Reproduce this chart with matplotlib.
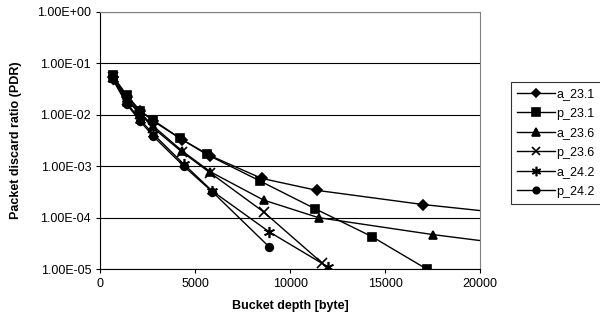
import matplotlib
matplotlib.use("Agg")
import matplotlib.pyplot as plt

plt.rcParams['font.family'] = ['Liberation Sans', 'DejaVu Sans']

# bucket depth [byte] and packet discard ratio per series
x_a231 = [650, 1400, 2100, 2800, 4300, 5800, 8500, 11400, 17000, 23000]
y_a231 = [0.055, 0.022, 0.012, 0.0075, 0.0033, 0.0016, 0.00058, 0.00034, 0.00018, 0.000105]

x_p231 = [650, 1400, 2100, 2800, 4200, 5600, 8400, 11300, 14300, 17200]
y_p231 = [0.058, 0.024, 0.012, 0.0078, 0.0035, 0.0017, 0.00052, 0.00015, 4.3e-5, 1.0e-5]

x_a236 = [650, 1400, 2100, 2800, 4300, 5800, 8600, 11500, 17500, 23000]
y_a236 = [0.055, 0.020, 0.011, 0.0060, 0.0020, 0.00078, 0.00022, 0.0001, 4.7e-5, 2.6e-5]

x_p236 = [650, 1400, 2100, 2800, 4300, 5800, 8600, 11700]
y_p236 = [0.055, 0.019, 0.0105, 0.0055, 0.0019, 0.00074, 0.00013, 1.3e-5]

x_a242 = [650, 1400, 2100, 2800, 4400, 5900, 8900, 12000]
y_a242 = [0.050, 0.017, 0.008, 0.0042, 0.0011, 0.00033, 5.3e-5, 1.1e-5]

x_p242 = [650, 1400, 2100, 2800, 4400, 5900, 8900]
y_p242 = [0.050, 0.016, 0.0075, 0.0038, 0.0010, 0.00032, 2.7e-5]

labels = ['a_23.1', 'p_23.1', 'a_23.6', 'p_23.6', 'a_24.2', 'p_24.2']
series = [(x_a231, y_a231), (x_p231, y_p231), (x_a236, y_a236),
          (x_p236, y_p236), (x_a242, y_a242), (x_p242, y_p242)]
markers = ['D', 's', '^', 'x', (6, 2, 0), 'o']
msizes = [5, 6, 6, 7, 8, 5.5]

yticks = [1e-5, 1e-4, 1e-3, 1e-2, 1e-1, 1e0]
ytick_labels = ['1.00E-05', '1.00E-04', '1.00E-03', '1.00E-02', '1.00E-01', '1.00E+00']
xticks = [0, 5000, 10000, 15000, 20000]

fig = plt.figure(figsize=(6, 3.29), dpi=100)
ax = fig.add_axes([0.167, 0.182, 0.633, 0.782])

for (xs, ys), lab, m, ms in zip(series, labels, markers, msizes):
    ax.plot(xs, ys, color='black', lw=1, marker=m, ms=ms, mew=1.2,
            mfc='black', mec='black', label=lab, clip_on=True)

ax.set_yscale('log')
ax.set_xlim(0, 20000)
ax.set_ylim(1e-5, 1)
ax.set_yticks(yticks)
ax.set_yticklabels(ytick_labels)
ax.minorticks_off()
ax.set_xticks(xticks)
ax.tick_params(axis='both', labelsize=9, direction='out', length=3, width=0.8)
ax.grid(axis='y', color='black', lw=0.8)
ax.set_axisbelow(True)

for side in ['top', 'right']:
    ax.spines[side].set_color('#808080')
    ax.spines[side].set_linewidth(0.8)
ax.spines['left'].set_linewidth(0.8)
ax.spines['bottom'].set_linewidth(0.8)

ax.set_xlabel('Bucket depth [byte]', fontsize=9, fontweight='bold', labelpad=7)
ax.set_ylabel('Packet discard ratio (PDR)', fontsize=9, fontweight='bold', labelpad=11)

leg = ax.legend(loc='upper left', bbox_to_anchor=(0.852, 0.751),
                bbox_transform=fig.transFigure, borderaxespad=0, fontsize=9,
                frameon=True, fancybox=False, edgecolor='black',
                borderpad=0.5, labelspacing=0.6, handlelength=3.0,
                handletextpad=0.1, markerscale=0.85)
leg.get_frame().set_linewidth(0.8)

fig.savefig('out.png', dpi=100)
